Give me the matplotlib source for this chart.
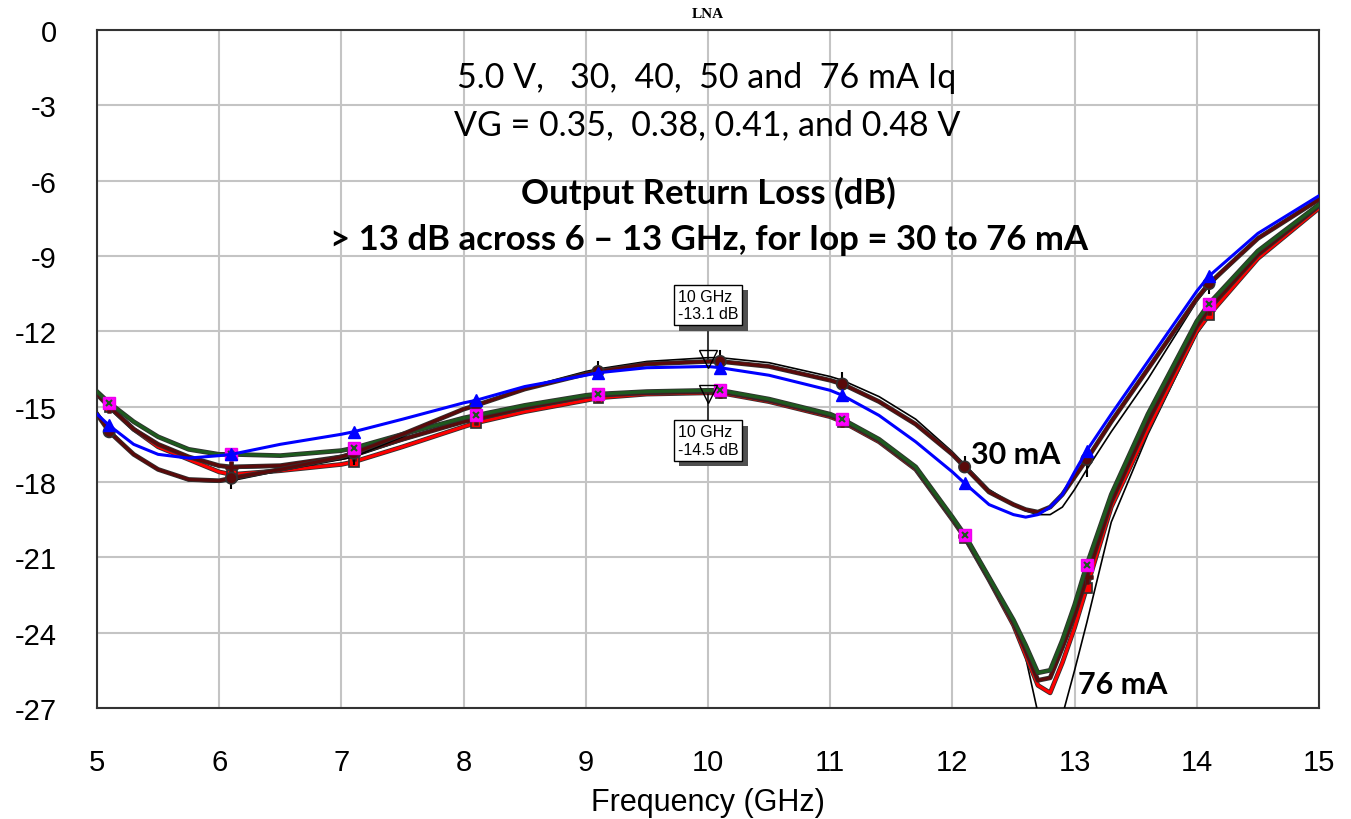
import matplotlib
matplotlib.use("Agg")
import matplotlib.pyplot as plt
from matplotlib import patheffects as pe

plt.rcParams["axes.unicode_minus"] = False

# frequency grid (GHz) shared by all traces
freq = [5.0, 5.1, 5.3, 5.5, 5.75, 6.0, 6.1, 6.5, 7.0, 7.1, 7.5, 8.0, 8.1, 8.5,
        9.0, 9.1, 9.5, 10.0, 10.1, 10.5, 11.0, 11.1, 11.4, 11.7, 12.0, 12.1,
        12.3, 12.5, 12.6, 12.7, 12.8, 12.9, 13.0, 13.1, 13.3, 13.6, 14.0, 14.1,
        14.5, 15.0]
# marker positions: 5.1, 6.1, ... 14.1 GHz
mark_idx = [1, 6, 9, 12, 15, 18, 21, 25, 33, 37]

# upper group (30 mA side)
s22_blue = [-15.3, -15.75, -16.5, -16.9, -17.05, -16.95, -16.9, -16.5, -16.1, -16.0,
            -15.5, -14.85, -14.75, -14.2, -13.75, -13.65, -13.45, -13.4, -13.45, -13.75,
            -14.35, -14.55, -15.35, -16.4, -17.6, -18.05, -18.9, -19.3, -19.4, -19.3,
            -19.0, -18.5, -17.6, -16.75, -15.3, -13.2, -10.4, -9.8, -8.1, -6.6]
s22_maroon_up = [-15.3, -16.0, -16.9, -17.5, -17.9, -17.95, -17.85, -17.5, -17.0, -16.85,
                 -16.1, -15.1, -14.95, -14.3, -13.7, -13.6, -13.3, -13.2, -13.2, -13.4,
                 -13.95, -14.1, -14.8, -15.7, -16.9, -17.4, -18.4, -18.9, -19.1, -19.2,
                 -19.0, -18.5, -17.8, -17.1, -15.6, -13.5, -10.7, -10.1, -8.3, -6.75]
s22_black_up = [-15.2, -15.9, -16.9, -17.5, -17.95, -18.0, -17.95, -17.55, -17.1, -17.0,
                -16.2, -15.1, -14.95, -14.25, -13.6, -13.5, -13.2, -13.05, -13.05, -13.25,
                -13.8, -13.95, -14.6, -15.5, -16.8, -17.3, -18.3, -18.9, -19.15, -19.3,
                -19.3, -19.0, -18.3, -17.5, -16.0, -13.9, -10.8, -10.2, -8.3, -6.75]

# lower group (76 mA side)
s22_green = [-14.4, -14.85, -15.6, -16.2, -16.7, -16.9, -16.9, -16.95, -16.75, -16.65,
             -16.1, -15.45, -15.35, -14.95, -14.55, -14.5, -14.4, -14.35, -14.35, -14.7,
             -15.3, -15.5, -16.3, -17.4, -19.4, -20.1, -21.8, -23.5, -24.5, -25.6,
             -25.5, -24.3, -22.9, -21.3, -18.5, -15.3, -11.6, -10.9, -8.8, -6.95]
s22_red = [-14.5, -15.0, -15.9, -16.6, -17.1, -17.6, -17.7, -17.55, -17.3, -17.2,
           -16.6, -15.8, -15.65, -15.2, -14.75, -14.65, -14.5, -14.45, -14.45, -14.8,
           -15.4, -15.6, -16.4, -17.5, -19.5, -20.2, -21.9, -23.7, -24.9, -26.1,
           -26.4, -25.2, -23.8, -22.2, -19.0, -15.9, -12.0, -11.35, -9.1, -7.1]
s22_maroon_lo = [-14.5, -15.0, -15.9, -16.5, -17.0, -17.35, -17.4, -17.35, -17.0, -16.9,
                 -16.3, -15.6, -15.5, -15.05, -14.6, -14.55, -14.45, -14.4, -14.4, -14.75,
                 -15.35, -15.55, -16.35, -17.45, -19.45, -20.15, -21.85, -23.6, -24.7, -25.9,
                 -25.8, -24.6, -23.3, -21.8, -18.8, -15.6, -11.8, -11.1, -8.95, -7.0]
s22_black_lo = [-14.4, -14.95, -15.9, -16.5, -17.05, -17.4, -17.45, -17.4, -17.1, -17.0,
                -16.35, -15.6, -15.5, -15.05, -14.6, -14.55, -14.45, -14.45, -14.45, -14.75,
                -15.35, -15.55, -16.35, -17.5, -19.5, -20.2, -21.9, -23.7, -25.0, -27.2,
                -29.0, -27.3, -25.5, -23.6, -19.6, -16.1, -12.1, -11.4, -9.1, -7.05]

# marker readouts
mkr_freq = [10.0, 10.0]
mkr_val = [-13.1, -14.5]
mkr_text = ["10 GHz\n-13.1 dB", "10 GHz\n-14.5 dB"]

xticks = list(range(5, 16))
yticks = list(range(-27, 1, 3))

fig = plt.figure(figsize=(13.51, 8.2), dpi=100)
ax = fig.add_axes([0.0718, 0.1354, 0.9045, 0.8268])

edge = [pe.Stroke(linewidth=3.4, foreground="#303030"), pe.Normal()]

ax.plot(freq, s22_black_lo, color="black", lw=1.2, zorder=3)
ax.plot(freq, s22_red, color="#ff0000", lw=2.2, marker="s", ms=5, markevery=mark_idx,
        path_effects=edge, zorder=4)
ax.plot(freq, s22_maroon_lo, color="#5a0a0a", lw=2.2, marker="+", ms=9, mew=2.5,
        markevery=mark_idx, path_effects=edge, zorder=5)
ax.plot(freq, s22_green, color="#1e5a1e", lw=2.2, path_effects=edge, zorder=6)
ax.plot(freq, s22_green, ls="none", marker="s", ms=8, mfc="#ff00ff", mec="#ee00ee",
        markevery=mark_idx, zorder=7)
ax.plot(freq, s22_green, ls="none", marker="x", ms=5, mew=1.5, color="#1e5a1e",
        markevery=mark_idx, zorder=8)

ax.plot(freq, s22_black_up, color="black", lw=1.2, marker="|", ms=11, mew=1.5,
        markevery=mark_idx, zorder=5)
ax.plot(freq, s22_maroon_up, color="#5a0a0a", lw=2.2, marker="o", ms=6,
        markevery=mark_idx, path_effects=edge, zorder=6)
ax.plot(freq, s22_blue, color="#0000ff", lw=2.2, marker="^", ms=8,
        markevery=mark_idx, zorder=9)

# marker readouts
ax.plot(mkr_freq, mkr_val, ls="none", marker="v", ms=13, mfc="none", mec="black",
        mew=1.0, zorder=10)
for f, v, t, dy in zip(mkr_freq, mkr_val, mkr_text, [2.15, -1.85]):
    a = ax.annotate(t, xy=(f, v), xytext=(f, v + dy), ha="center", va="center",
                    fontsize=11.5, family="Liberation Sans", multialignment="left",
                    bbox=dict(boxstyle="square,pad=0.25", fc="white", ec="black", lw=1),
                    arrowprops=dict(arrowstyle="-", color="black", lw=1,
                                    shrinkA=0, shrinkB=0), zorder=11)
    a.get_bbox_patch().set_path_effects([pe.withSimplePatchShadow(
        offset=(4, -4), shadow_rgbFace="#505050", alpha=1.0)])

ax.set_xlim(5, 15)
ax.set_ylim(-27, 0)
ax.set_xticks(xticks)
ax.set_yticks(yticks)
ax.grid(True, color="#c4c4c4", lw=1.5)
ax.set_axisbelow(True)
ax.tick_params(length=0, pad=29, labelsize=21)
for lab in ax.get_xticklabels() + ax.get_yticklabels():
    lab.set_family("Liberation Sans")
for sp in ax.spines.values():
    sp.set_color("#333333")
    sp.set_linewidth(1.5)
ax.set_xlabel("Frequency (GHz)", fontsize=22, family="Liberation Sans", labelpad=8)

ax.text(12.52, -16.9, "30 mA", ha="center", va="center", fontsize=22,
        fontweight="bold", family="Lato", zorder=12)
ax.text(13.39, -26.05, "76 mA", ha="center", va="center", fontsize=22,
        fontweight="bold", family="Lato", zorder=12)

fig.text(0.524, 0.982, "LNA", ha="center", va="center", fontsize=11,
         fontweight="bold", family="Liberation Serif")
fig.text(0.5233, 0.9049, "5.0 V,   30,  40,  50 and  76 mA Iq", ha="center",
         va="center", fontsize=24.5, family="Lato")
fig.text(0.5233, 0.8476, "VG = 0.35,  0.38, 0.41, and 0.48 V", ha="center",
         va="center", fontsize=24.5, family="Lato")
fig.text(0.524, 0.7646, "Output Return Loss (dB)", ha="center", va="center",
         fontsize=25, fontweight="bold", family="Lato")
fig.text(0.5248, 0.7073, "> 13 dB across 6 \u2013 13 GHz, for Iop = 30 to 76 mA",
         ha="center", va="center", fontsize=25, fontweight="bold", family="Lato")

fig.savefig("out.png", dpi=100)
